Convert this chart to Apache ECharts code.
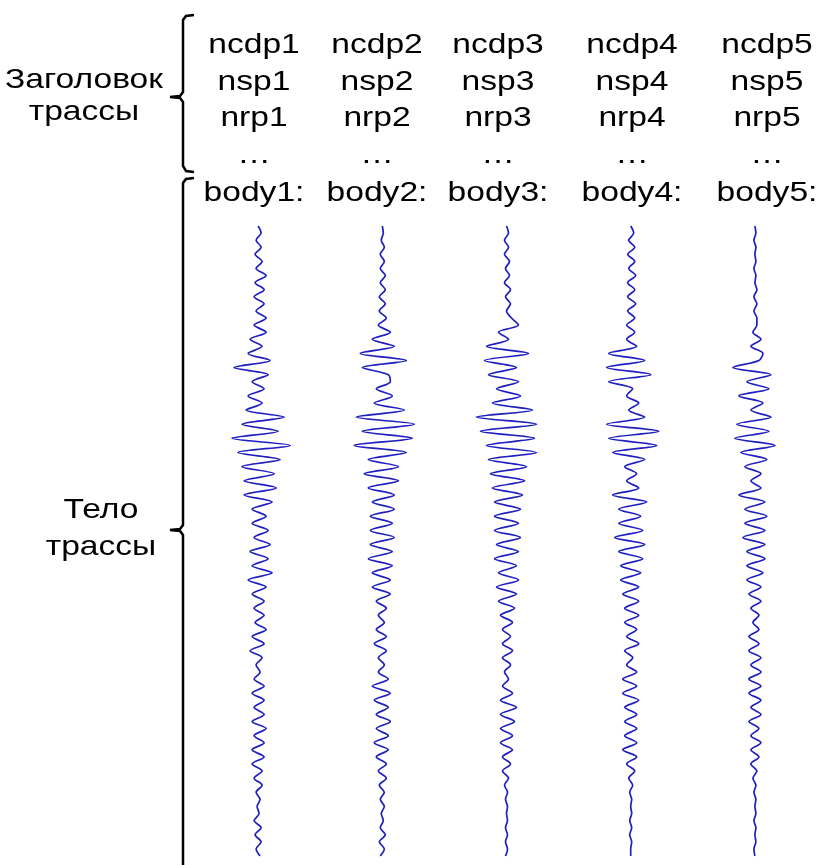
<!DOCTYPE html>
<html>
<head>
<meta charset="utf-8">
<script src="https://cdn.jsdelivr.net/npm/echarts@6/dist/echarts.min.js"></script>
<style>
  html, body { margin: 0; padding: 0; background: #fff; }
  #chart { width: 820px; height: 865px; }
</style>
</head>
<body>
<div id="chart"></div>
<script>
// подписи заголовков трасс
const traceIds = ['1', '2', '3', '4', '5']
const headerFields = ['ncdp', 'nsp', 'nrp']
const groupLabels = [['Заголовок', 'трассы'], ['Тело', 'трассы']]

// амплитуды трасс (отсчёт через равный шаг по времени)
const amp1 = [0, 3, -2, 3, -3, 4, -2, 8, -3, 6, -4, 6, -2, 8, -4, 8, -8, 4, -10, 12,
  -24, 10, -6, 6, -10, 4, -12, 26, -16, 20, -26, 32, -20, 22, -16, 16, -14, 18, -14, 14,
  -6, 8, -6, 10, -4, 12, -8, 10, -6, 14, -10, 8, -6, 6, -4, 6, -3, 8, -6, 6,
  -8, 4, -2, 2, -4, 6, -6, 6, -4, 6, -6, 8, -4, 6, -6, 6, -6, 4, -4, 4,
  -2, 2, -1, 1, -4, 3, -3, 3, -2, 2]
const amp2 = [0, 1, -1, 2, -2, 2, -2, 3, -2, 3, -3, 3, -3, 4, -4, 8, -10, 12, -22, 24,
  -20, 6, 8, -6, 10, -8, 22, -26, 32, -20, 30, -28, 24, -14, 16, -18, 16, -14, 12, -10,
  12, -12, 10, -12, 12, -12, 10, -14, 10, -10, 8, -10, 8, -6, 4, -4, 2, -6, 4, -8,
  4, -4, 2, -4, 6, -10, 8, -8, 6, -6, 8, -6, 6, -8, 6, -6, 4, -4, 4, -3,
  2, -2, 2, -1, 1, -2, 3, -3, 2, -2]
const amp3 = [0, 2, -2, 2, -2, 3, -1, 3, -2, 4, -1, 4, 0, 5, 12, -8, 2, -20, 22, -22,
  10, -18, 12, -10, 14, -14, 26, -30, 30, -26, 28, -20, 30, -18, 20, -16, 18, -14, 16, -12,
  14, -12, 12, -12, 14, -10, 12, -12, 10, -8, 12, -10, 10, -8, 8, -6, 6, -4, 4, -4,
  6, -4, 4, -2, 2, -4, 6, -6, 10, -6, 8, -6, 6, -6, 6, -4, 4, -4, 2, -2,
  1, -1, 1, 0, 1, -1, 1, -1, 1, -1]
const amp4 = [0, 3, -2, 4, -3, 4, -2, 5, -3, 4, -3, 5, -3, 4, -4, 4, -4, 6, -22, 14,
  -24, 20, -22, 2, -4, 8, -2, 14, -24, 28, -22, 26, -18, 14, -6, 6, -4, 8, -18, 16,
  -12, 10, -12, 12, -16, 14, -12, 12, -10, 10, -10, 8, -8, 8, -6, 8, -6, 6, -4, 8,
  -6, 2, -4, 6, -8, 6, -8, 8, -6, 6, -6, 6, -6, 6, -8, 6, -4, 4, -2, 2,
  -1, 1, 0, 1, -1, 1, -1, 1, 0, 0]
const amp5 = [0, 1, -1, 1, 0, 1, -1, 1, 0, 2, -1, 2, -1, 2, 2, -2, 6, -4, 8, 4,
  -22, 16, -8, 14, -16, 8, -4, 16, -18, 14, -20, 20, -14, 12, -10, 6, -4, 6, -16, 10,
  -10, 12, -10, 10, -12, 10, -8, 10, -8, 8, -8, 6, -6, 6, -4, 4, -2, 4, -6, 4,
  -6, 6, -4, 6, -6, 6, -6, 6, -4, 6, -6, 4, -4, 6, -4, 4, -4, 2, -2, 1,
  -1, 1, 0, 1, -1, 1, 0, 1, -1, 0]
const traces = [amp1, amp2, amp3, amp4, amp5]

const chart = echarts.init(document.getElementById('chart'))

const FONT = '28px "Liberation Sans", Arial, sans-serif'
const STRETCH = 1.2 // текст на оригинале растянут по горизонтали
const colX = [254, 377, 498, 632, 767]
const rowY = [45, 82, 118, 155, 193]
const gain = 1 / 124 // пиксели амплитуды -> единицы оси

function label (text, x, y) {
  return {
    type: 'text',
    x: x,
    y: y,
    scaleX: STRETCH,
    style: { text: text, font: FONT, fill: '#000', align: 'center', verticalAlign: 'middle' }
  }
}

const graphics = []
traceIds.forEach((id, i) => {
  headerFields.forEach((f, r) => graphics.push(label(f + id, colX[i], rowY[r])))
  graphics.push(label('…', colX[i], rowY[3]))
  graphics.push(label('body' + id + ':', colX[i], rowY[4]))
})
graphics.push(label(groupLabels[0][0], 84, 80))
graphics.push(label(groupLabels[0][1], 84, 112))
graphics.push(label(groupLabels[1][0], 101, 510))
graphics.push(label(groupLabels[1][1], 101, 547))

// фигурные скобки
const brace = { stroke: '#000', lineWidth: 2.5, fill: null }
graphics.push({
  type: 'polyline',
  shape: { points: [[194, 15], [186, 16], [183, 20], [183, 92], [180, 96], [170, 97], [180, 98], [183, 102], [183, 166], [186, 171], [194, 172]] },
  style: brace
})
graphics.push({
  type: 'polyline',
  shape: { points: [[194, 178], [186, 179], [183, 183], [183, 525], [180, 529], [170, 530], [180, 531], [183, 535], [183, 870]] },
  style: brace
})

const series = traces.map((amp, i) => ({
  type: 'line',
  name: 'body' + traceIds[i],
  data: amp.map((a, k) => [i + 1 + a * gain, k]),
  showSymbol: false,
  smooth: 0.3,
  lineStyle: { color: '#1f1fc0', width: 1.7 }
}))

chart.setOption({
  animation: false,
  backgroundColor: '#fff',
  grid: { left: 196, right: 3, top: 226, bottom: 9 },
  xAxis: { type: 'value', min: 0.5, max: 5.5, show: false },
  yAxis: { type: 'value', min: 0, max: amp1.length - 1, inverse: true, show: false },
  graphic: graphics,
  series: series
})
</script>
</body>
</html>
